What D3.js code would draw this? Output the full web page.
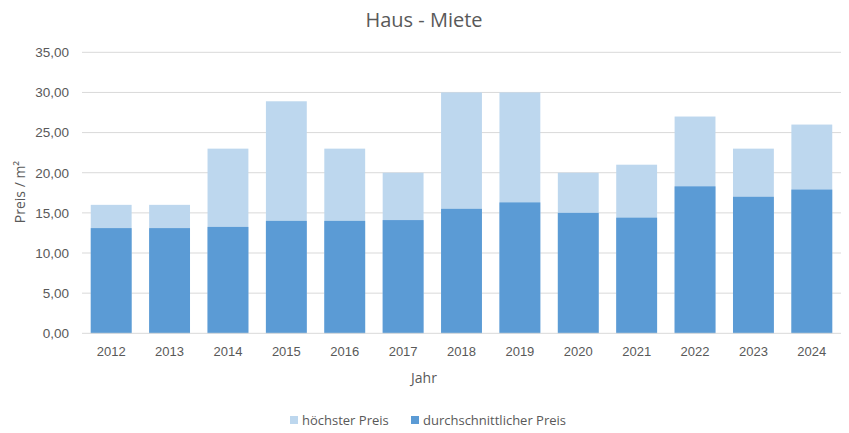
<!DOCTYPE html>
<html>
<head>
<meta charset="utf-8">
<script src="https://cdn.jsdelivr.net/npm/d3@7"></script>
<style>
  body { margin: 0; background: #fff; }
  svg { display: block; font-family: "Open Sans", "DejaVu Sans", sans-serif; }
</style>
</head>
<body>
<svg id="chart" width="849" height="433"></svg>
<script>
const years = ["2012","2013","2014","2015","2016","2017","2018","2019","2020","2021","2022","2023","2024"];
const maxPrice = [16, 16, 23, 28.9, 23, 20, 30, 30, 20, 21, 27, 23, 26];
const avgPrice = [13.1, 13.1, 13.25, 14, 14, 14.1, 15.5, 16.3, 15, 14.4, 18.3, 17, 17.9];
const yTicks = [0, 5, 10, 15, 20, 25, 30, 35];
const seriesNames = ["höchster Preis", "durchschnittlicher Preis"];
const colors = ["#BDD7EE", "#5B9BD5"];

const svg = d3.select("#chart");
const margin = { left: 82, right: 8, top: 52, bottom: 100 };
const W = 849, H = 433;
const x = d3.scaleBand().domain(years).range([margin.left, W - margin.right]).paddingInner(0.3).paddingOuter(0.15);
const y = d3.scaleLinear().domain([0, 35]).range([333.3, 52.3]);

const fmt = d => d3.format(".2f")(d).replace(".", ",");

// gridlines
svg.append("g").selectAll("line").data(yTicks.filter(t => t > 0)).join("line")
  .attr("x1", margin.left).attr("x2", W - margin.right)
  .attr("y1", d => y(d)).attr("y2", d => y(d))
  .attr("stroke", "#d9d9d9").attr("stroke-width", 1);

// y axis labels
const yAxis = d3.axisLeft(y).tickValues(yTicks).tickFormat(fmt).tickSize(0).tickPadding(13);
const yg = svg.append("g").attr("transform", `translate(${margin.left},0)`).call(yAxis);
yg.select(".domain").remove();
yg.selectAll("text").attr("fill", "#595959").style("font-size", "13.5px");

// bars
svg.append("g").selectAll("rect").data(years).join("rect")
  .attr("x", d => x(d)).attr("width", x.bandwidth())
  .attr("y", (d, i) => y(maxPrice[i])).attr("height", (d, i) => y(0) - y(maxPrice[i]))
  .attr("fill", colors[0]);
svg.append("g").selectAll("rect").data(years).join("rect")
  .attr("x", d => x(d)).attr("width", x.bandwidth())
  .attr("y", (d, i) => y(avgPrice[i])).attr("height", (d, i) => y(0) - y(avgPrice[i]))
  .attr("fill", colors[1]);

// x axis
const xAxis = d3.axisBottom(x).tickSize(0).tickPadding(13);
const xg = svg.append("g").attr("transform", `translate(0,${y(0)})`).call(xAxis);
xg.select(".domain").attr("stroke", "#d9d9d9").attr("d", `M${margin.left},0H${W - margin.right}`);
xg.selectAll("text").attr("fill", "#595959").style("font-size", "13px");

// title
svg.append("text").attr("x", 424).attr("y", 27).attr("text-anchor", "middle")
  .attr("fill", "#595959").style("font-size", "20px").text("Haus - Miete");

// axis titles
svg.append("text").attr("x", 424).attr("y", 383).attr("text-anchor", "middle")
  .attr("fill", "#595959").style("font-size", "14px").text("Jahr");
svg.append("text").attr("transform", "translate(25,192) rotate(-90)").attr("text-anchor", "middle")
  .attr("fill", "#595959").style("font-size", "14px").text("Preis / m²");

// legend
const leg = svg.append("g");
const legX = [290, 411];
seriesNames.forEach((n, i) => {
  leg.append("rect").attr("x", legX[i]).attr("y", 416).attr("width", 8).attr("height", 8).attr("fill", colors[i]);
  leg.append("text").attr("x", legX[i] + 12).attr("y", 424.5).attr("fill", "#595959")
    .style("font-size", "13px").text(n);
});
</script>
</body>
</html>
